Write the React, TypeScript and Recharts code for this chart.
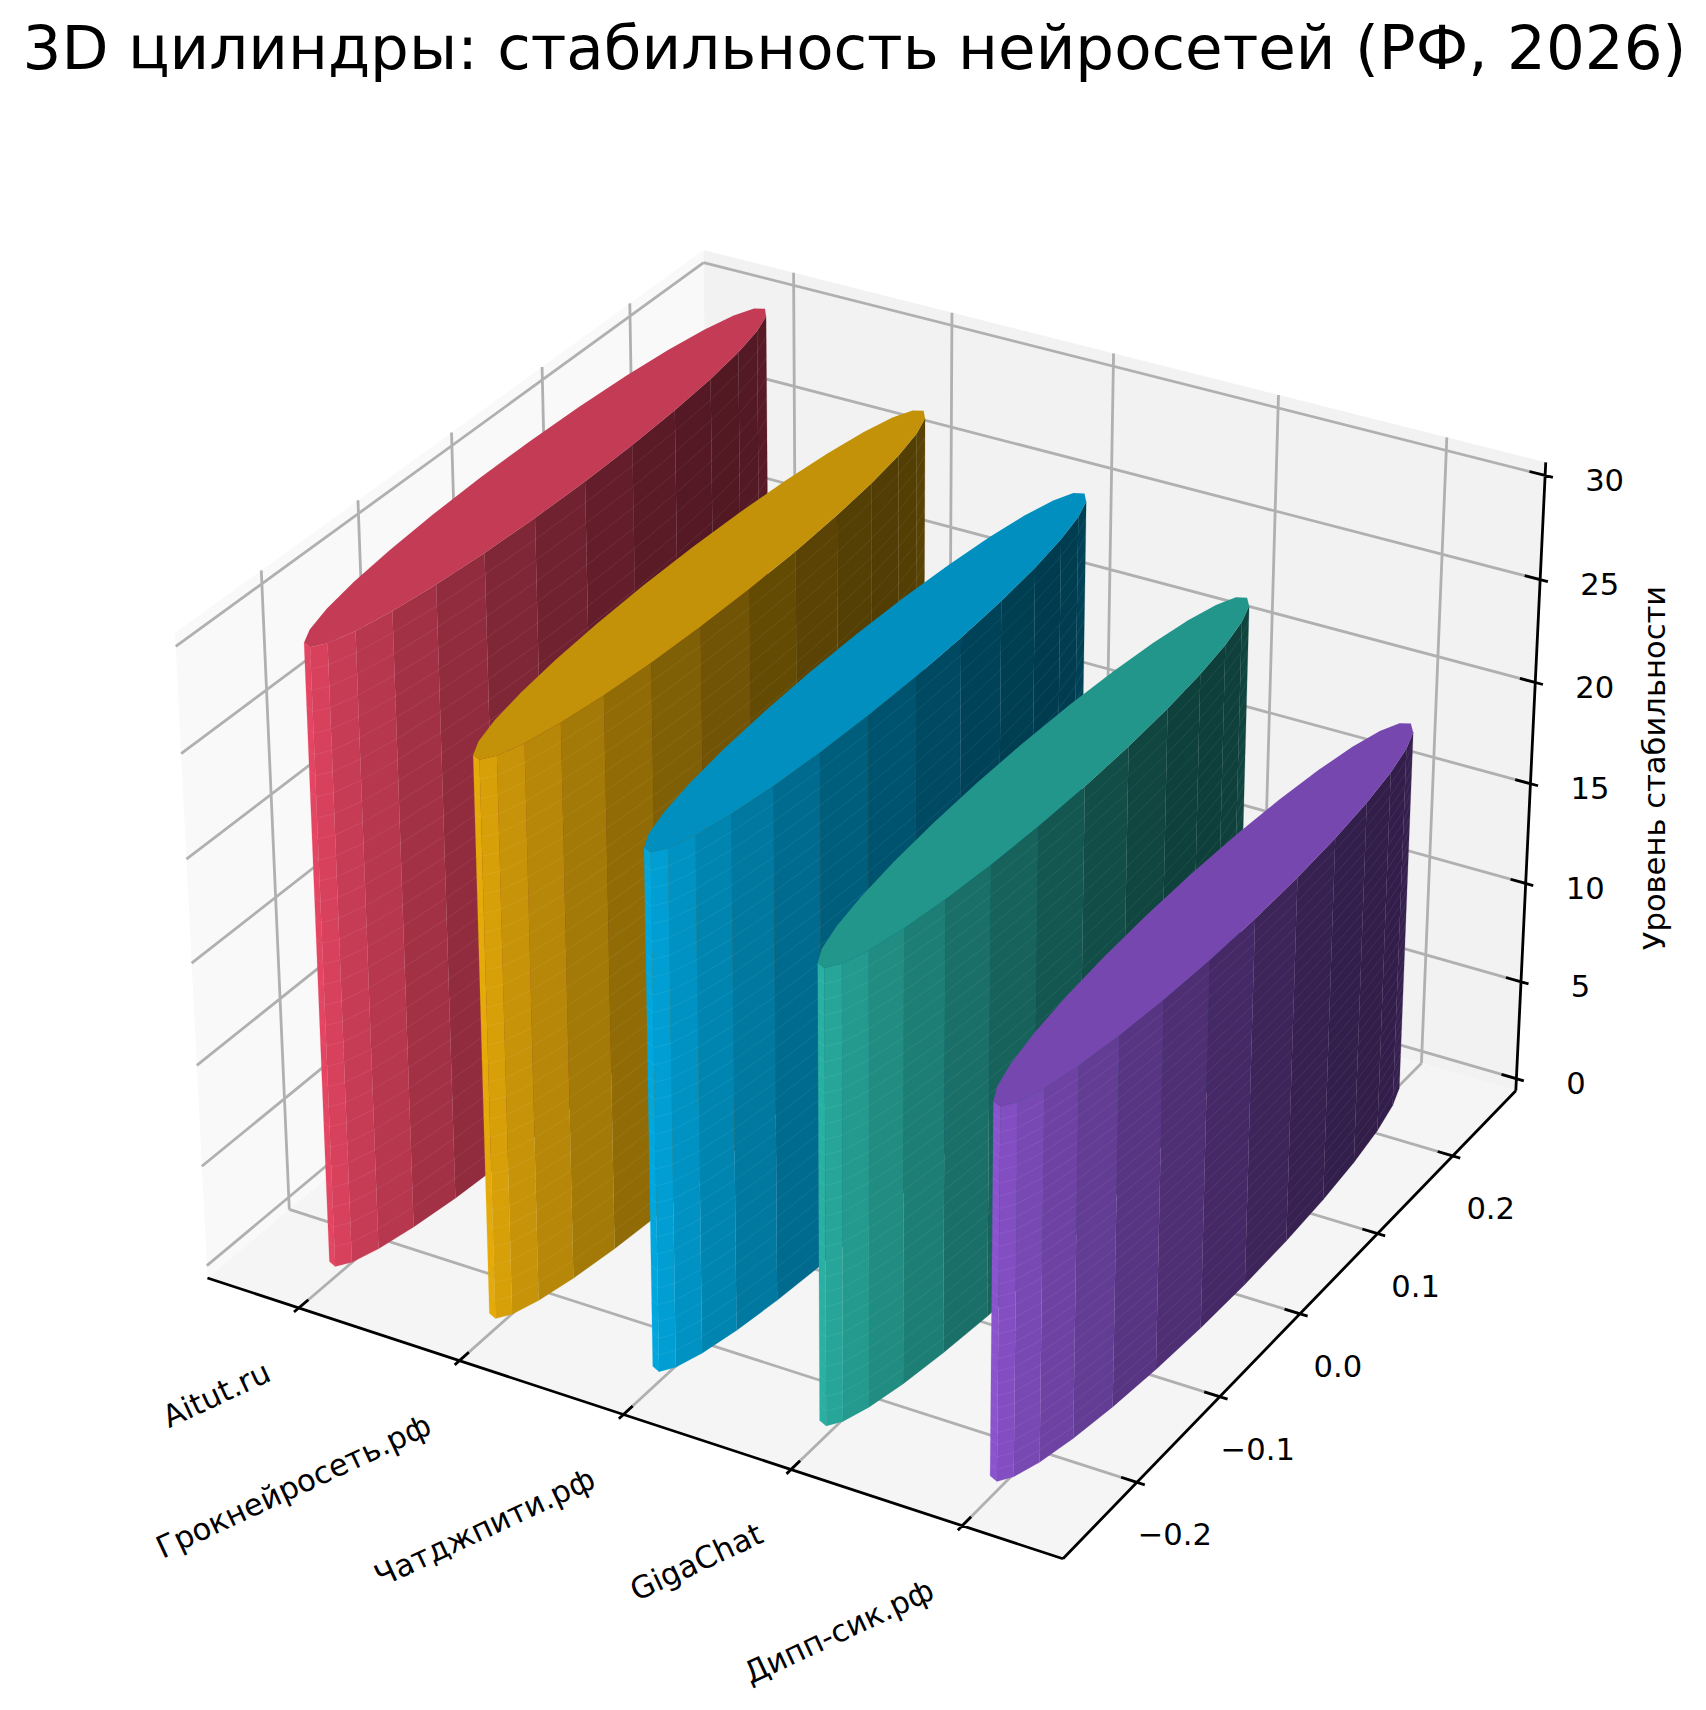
import React from 'react';
import { ScatterChart, Scatter, XAxis, YAxis } from 'recharts';

const categories = ['Aitut.ru', 'Грокнейросеть.рф', 'Чатджпити.рф', 'GigaChat', 'Дипп-сик.рф'];
const stability = [30, 27, 25, 22, 18];
const colors = ['#FF4D6D', '#FFBE0B', '#00BBF9', '#2EC4B6', '#9B5DE5'];
const yTicks = [-0.2, -0.1, 0, 0.1, 0.2];
const yTickLabels = ['−0.2', '−0.1', '0.0', '0.1', '0.2'];
const zTicks = [0, 5, 10, 15, 20, 25, 30];

const W = 1706;
const H = 1710;
const FONT = '"DejaVu Sans", sans-serif';

const RADIUS = 0.25;
const SIDES = 29;
const ROWS = 30;

// limits of the 3d axes, the panes stick out by 1/48 of the range
const xLim = [-0.475, 4.475];
const yLim = [-0.275, 0.275];
const zLim = [0, 30];
const pad = (l: number[]) => [l[0] - (l[1] - l[0]) / 48, l[1] + (l[1] - l[0]) / 48];
const xBox = pad(xLim);
const yBox = pad(yLim);
const zBox = pad(zLim);

// same camera as a default mplot3d view: elev 30, azim -60, dist 10
const boxAspect = [1.1905, 1.1905, 0.8929];
const U = [0.866025, 0.5, 0];
const V = [-0.25, 0.433013, 0.866025];
const N = [0.433013, -0.75, 0.5];
const SCALE = 7900;
const CX = 874.2;
const CY = 871.6;

type Pt = { x: number; y: number };

const dot = (a: number[], b: number[]) => a[0] * b[0] + a[1] * b[1] + a[2] * b[2];

const rel = (x: number, y: number, z: number) => [
  ((x - xLim[0]) / (xLim[1] - xLim[0]) - 0.5) * boxAspect[0],
  ((y - yLim[0]) / (yLim[1] - yLim[0]) - 0.5) * boxAspect[1],
  ((z - zLim[0]) / (zLim[1] - zLim[0]) - 0.5) * boxAspect[2],
];

const project = (x: number, y: number, z: number): Pt => {
  const p = rel(x, y, z);
  const d = 10 - dot(N, p);
  return { x: CX + (SCALE * dot(U, p)) / d, y: CY - (SCALE * dot(V, p)) / d };
};

const depth = (x: number, y: number, z: number) => dot(N, rel(x, y, z));

const area = (p: Pt[]) => {
  let s = 0;
  p.forEach((a, i) => {
    const b = p[(i + 1) % p.length];
    s += a.x * b.y - b.x * a.y;
  });
  return s / 2;
};

const shadeColor = (hex: string, s: number) => {
  const f = 0.65 + 0.35 * s;
  const c = [1, 3, 5].map((i) => Math.round(parseInt(hex.slice(i, i + 2), 16) * f));
  return `rgb(${c[0]},${c[1]},${c[2]})`;
};

type Face = { fill: string; pts: Pt[] };

const buildCylinder = (center: number, height: number, color: string) => {
  const bands: (Face & { d: number })[] = [];
  const rings: Pt[] = [];
  for (let k = 0; k < SIDES; k++) {
    const a = (2 * Math.PI * k) / SIDES;
    const b = (2 * Math.PI * (k + 1)) / SIDES;
    const m = (a + b) / 2;
    const xa = center + RADIUS * Math.cos(a);
    const ya = RADIUS * Math.sin(a);
    const xb = center + RADIUS * Math.cos(b);
    const yb = RADIUS * Math.sin(b);
    const s = -0.6667 * (Math.cos(m) + Math.sin(m));
    const pts = [project(xa, ya, 0), project(xb, yb, 0), project(xb, yb, height), project(xa, ya, height)];
    if (area(pts) > 0) continue;
    bands.push({ fill: shadeColor(color, s), pts, d: depth((xa + xb) / 2, (ya + yb) / 2, height / 2) });
    for (let r = 1; r < ROWS; r++) {
      const z = (height * r) / ROWS;
      rings.push(project(xa, ya, z), project(xb, yb, z));
    }
  }
  bands.sort((p, q) => p.d - q.d);
  const rim: Pt[] = [];
  for (let k = 0; k < SIDES; k++) {
    const a = (2 * Math.PI * k) / SIDES;
    rim.push(project(center + RADIUS * Math.cos(a), RADIUS * Math.sin(a), height));
  }
  const faces: Face[] = bands;
  return { faces, rings, cap: [{ fill: shadeColor(color, 0.3333), pts: rim }] as Face[] };
};

const NoDot = () => null;

// Scatter hands its line renderer the scaled points, cut them back into faces
const faceLayer = (faces: Face[], seal = 0) => (props: any) => {
  const out: React.ReactNode[] = [];
  let i = 0;
  faces.forEach((f, n) => {
    const pts = props.points.slice(i, i + f.pts.length);
    i += f.pts.length;
    const d = pts.map((p: Pt, j: number) => `${j ? 'L' : 'M'}${p.x.toFixed(2)} ${p.y.toFixed(2)}`).join('') + 'Z';
    out.push(<path key={n} d={d} fill={f.fill} stroke={seal ? f.fill : 'none'} strokeWidth={seal} />);
  });
  return <g>{out}</g>;
};

const strokeLayer = (color: string, width: number) => (props: any) => {
  let d = '';
  for (let i = 0; i + 1 < props.points.length; i += 2) {
    const a = props.points[i];
    const b = props.points[i + 1];
    d += `M${a.x.toFixed(2)} ${a.y.toFixed(2)}L${b.x.toFixed(2)} ${b.y.toFixed(2)}`;
  }
  return <path d={d} stroke={color} strokeWidth={width} fill="none" strokeLinecap="butt" />;
};

const textShape =
  (size: number, anchor: string, angle: number, central = false) =>
  (props: any) => {
    const { cx, cy, payload } = props;
    return (
      <text
        x={cx}
        y={cy}
        fontFamily={FONT}
        fontSize={size}
        textAnchor={anchor}
        dominantBaseline={central ? 'central' : 'auto'}
        fill="#000"
        transform={angle ? `rotate(${angle} ${cx} ${cy})` : undefined}
      >
        {payload.label}
      </text>
    );
  };

const panes: Face[] = [
  {
    fill: '#F9F9F9',
    pts: [
      project(xBox[0], yBox[0], zBox[0]),
      project(xBox[0], yBox[1], zBox[0]),
      project(xBox[0], yBox[1], zBox[1]),
      project(xBox[0], yBox[0], zBox[1]),
    ],
  },
  {
    fill: '#F2F2F2',
    pts: [
      project(xBox[0], yBox[1], zBox[0]),
      project(xBox[1], yBox[1], zBox[0]),
      project(xBox[1], yBox[1], zBox[1]),
      project(xBox[0], yBox[1], zBox[1]),
    ],
  },
  {
    fill: '#F5F5F5',
    pts: [
      project(xBox[0], yBox[0], zBox[0]),
      project(xBox[1], yBox[0], zBox[0]),
      project(xBox[1], yBox[1], zBox[0]),
      project(xBox[0], yBox[1], zBox[0]),
    ],
  },
];

const xTickIdx = categories.map((_, i) => i);

const gridPoints: Pt[] = [
  ...xTickIdx.flatMap((x) => [
    project(x, yBox[0], zBox[0]),
    project(x, yBox[1], zBox[0]),
    project(x, yBox[1], zBox[0]),
    project(x, yBox[1], zBox[1]),
  ]),
  ...yTicks.flatMap((y) => [
    project(xBox[1], y, zBox[0]),
    project(xBox[0], y, zBox[0]),
    project(xBox[0], y, zBox[0]),
    project(xBox[0], y, zBox[1]),
  ]),
  ...zTicks.flatMap((z) => [
    project(xBox[0], yBox[0], z),
    project(xBox[0], yBox[1], z),
    project(xBox[0], yBox[1], z),
    project(xBox[1], yBox[1], z),
  ]),
];

const dX = (xLim[1] - xLim[0]) / 12;
const dY = (yLim[1] - yLim[0]) / 12;

const axisPoints: Pt[] = [
  project(xBox[0], yBox[0], zBox[0]),
  project(xBox[1], yBox[0], zBox[0]),
  project(xBox[1], yBox[0], zBox[0]),
  project(xBox[1], yBox[1], zBox[0]),
  project(xBox[1], yBox[1], zBox[0]),
  project(xBox[1], yBox[1], zBox[1]),
  ...xTickIdx.flatMap((x) => [
    project(x, yBox[0] - 0.11 * dY, zBox[0]),
    project(x, yBox[0] + 0.22 * dY, zBox[0]),
  ]),
  ...yTicks.flatMap((y) => [
    project(xBox[1] + 0.11 * dX, y, zBox[0]),
    project(xBox[1] - 0.22 * dX, y, zBox[0]),
  ]),
  ...zTicks.flatMap((z) => [
    project(xBox[1] + 0.11 * dX, yBox[1], z),
    project(xBox[1] - 0.22 * dX, yBox[1], z),
  ]),
];

const xLabels = categories.map((label, i) => {
  const t = project(i, yBox[0], zBox[0]);
  return { x: t.x - 26, y: t.y + 72, label };
});
const yLabels = yTicks.map((v, i) => {
  const t = project(xBox[1], v, zBox[0]);
  return { x: t.x + 38, y: t.y + 52.5, label: yTickLabels[i] };
});
const zLabels = zTicks.map((v) => {
  const t = project(xBox[1], yBox[1], v);
  return { x: t.x + 59.5, y: t.y + 5, label: String(v) };
});

const cylinders = stability.map((h, i) => buildCylinder(i, h, colors[i]));

const App = () => (
  <div style={{ position: 'absolute', left: 0, top: 0, width: W, height: H }}>
    <ScatterChart width={W} height={H} margin={{ top: 0, right: 0, bottom: 0, left: 0 }}>
      <XAxis type="number" dataKey="x" domain={[0, W]} hide />
      <YAxis type="number" dataKey="y" domain={[0, H]} reversed hide />
      <Scatter
        data={panes.flatMap((f) => f.pts)}
        line={faceLayer(panes)}
        shape={NoDot}
        isAnimationActive={false}
      />
      <Scatter data={gridPoints} line={strokeLayer('#B0B0B0', 2.8)} shape={NoDot} isAnimationActive={false} />
      <Scatter data={axisPoints} line={strokeLayer('#000000', 2.8)} shape={NoDot} isAnimationActive={false} />
      {cylinders.flatMap((c, i) => [
        <Scatter
          key={categories[i]}
          name={categories[i]}
          data={c.faces.flatMap((f) => f.pts)}
          line={faceLayer(c.faces, 0.2)}
          shape={NoDot}
          isAnimationActive={false}
        />,
        <Scatter
          key={`${categories[i]}-rings`}
          data={c.rings}
          line={strokeLayer('rgba(255,255,255,0.07)', 1)}
          shape={NoDot}
          isAnimationActive={false}
        />,
        <Scatter
          key={`${categories[i]}-cap`}
          data={c.cap.flatMap((f) => f.pts)}
          line={faceLayer(c.cap)}
          shape={NoDot}
          isAnimationActive={false}
        />,
      ])}
      <Scatter data={xLabels} shape={textShape(30.6, 'end', -25)} isAnimationActive={false} />
      <Scatter data={yLabels} shape={textShape(30.6, 'middle', 0, true)} isAnimationActive={false} />
      <Scatter data={zLabels} shape={textShape(30.6, 'middle', 0, true)} isAnimationActive={false} />
      <Scatter
        data={[{ x: 1654, y: 768, label: 'Уровень стабильности' }]}
        shape={textShape(30.6, 'middle', -90, true)}
        isAnimationActive={false}
      />
      <Scatter
        data={[{ x: 854.5, y: 69, label: '3D цилиндры: стабильность нейросетей (РФ, 2026)' }]}
        shape={textShape(61.1, 'middle', 0)}
        isAnimationActive={false}
      />
    </ScatterChart>
  </div>
);

export default App;
